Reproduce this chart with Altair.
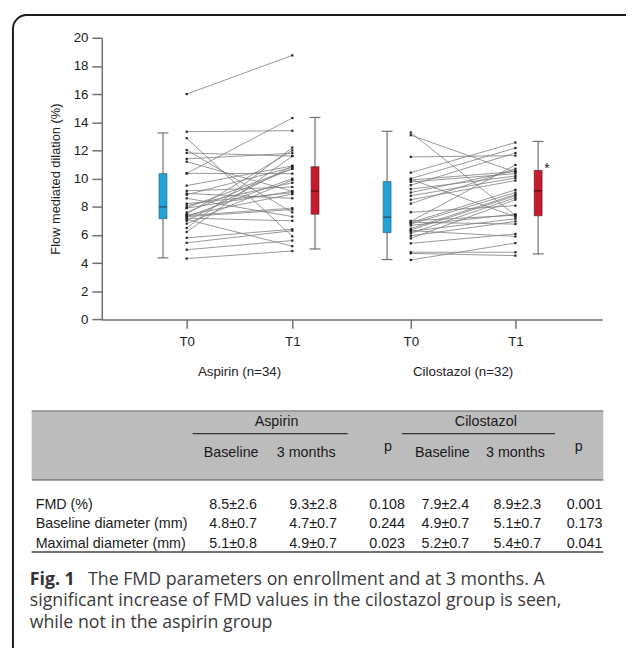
import altair as alt
import pandas as pd

# ---------------- data ----------------
aspirin_t0 = [16.0, 13.33, 12.87, 12.03, 11.82, 11.4, 11.2, 10.37, 10.37, 9.5,
              9.13, 8.94, 8.85, 8.6, 8.22, 8.08, 7.94, 7.47, 7.38, 7.29,
              7.19, 7.1, 7.0, 7.4, 7.3, 6.49, 6.21, 5.79, 5.44, 4.95,
              4.32, 7.9, 6.8, 7.6]
aspirin_t1 = [18.75, 13.4, 5.9, 7.6, 11.6, 11.8, 9.1, 14.3, 10.35, 10.9,
              9.4, 8.6, 10.8, 7.3, 9.0, 9.7, 10.7, 12.0, 7.9, 10.0,
              7.0, 5.2, 10.9, 8.9, 7.8, 12.2, 11.6, 6.4, 6.3, 5.6,
              4.86, 9.1, 9.9, 10.7]
cilostazol_t0 = [13.27, 13.08, 11.54, 10.42, 10.0, 9.95, 9.76, 9.53, 9.25, 9.01,
                 8.78, 8.5, 8.22, 7.61, 6.96, 6.87, 6.77, 6.68, 6.45, 6.35,
                 6.26, 6.12, 5.93, 5.75, 5.4, 4.77, 4.69, 4.22, 6.9, 6.3,
                 7.0, 9.9]
cilostazol_t1 = [7.38, 10.46, 11.63, 12.56, 12.17, 7.29, 10.35, 11.82, 10.18, 10.55,
                 10.04, 9.86, 10.7, 8.08, 10.97, 9.2, 9.01, 7.47, 8.87, 8.78,
                 7.15, 8.64, 6.96, 8.5, 6.07, 4.77, 4.53, 5.42, 6.77, 5.89,
                 7.4, 10.5]

groups = ["Aspirin", "Cilostazol"]
group_labels = ["Aspirin (n=34)", "Cilostazol (n=32)"]
times = ["T0", "T1"]

box_group = ["Aspirin", "Aspirin", "Cilostazol", "Cilostazol"]
box_time = ["T0", "T1", "T0", "T1"]
box_low = [4.37, 5.0, 4.25, 4.65]
box_q1 = [7.15, 7.47, 6.16, 7.36]
box_median = [7.99, 9.11, 7.26, 9.13]
box_q3 = [10.35, 10.84, 9.79, 10.58]
box_high = [13.24, 14.34, 13.36, 12.64]

sig_group = ["Cilostazol"]
sig_time = ["T1"]
sig_mark = ["*"]

y_ticks = [0, 2, 4, 6, 8, 10, 12, 14, 16, 18, 20]
y_title = "Flow mediated dilation (%)"

table_row_labels = ["FMD (%)", "Baseline diameter (mm)", "Maximal diameter (mm)"]
aspirin_baseline = ["8.5±2.6", "4.8±0.7", "5.1±0.8"]
aspirin_3months = ["9.3±2.8", "4.7±0.7", "4.9±0.7"]
aspirin_p = ["0.108", "0.244", "0.023"]
cilostazol_baseline = ["7.9±2.4", "4.9±0.7", "5.2±0.7"]
cilostazol_3months = ["8.9±2.3", "5.1±0.7", "5.4±0.7"]
cilostazol_p = ["0.001", "0.173", "0.041"]
table_groups = ["Aspirin", "Cilostazol"]
table_subheads = ["Baseline", "3 months", "p", "Baseline", "3 months", "p"]

caption_bold = "Fig. 1"
caption_lines = ["The FMD parameters on enrollment and at 3 months. A",
                 "significant increase of FMD values in the cilostazol group is seen,",
                 "while not in the aspirin group"]

# ---------------- layout (pixels, not data) ----------------
W, H = 626, 640
slot = {("Aspirin", "T0"): 86, ("Aspirin", "T1"): 193,
        ("Cilostazol", "T0"): 313, ("Cilostazol", "T1"): 419}
box_shift = {"T0": -24, "T1": 23}
BOX_HALF, CAP_HALF = 4, 5.5
AXIS_Y0, AXIS_Y20 = 311.3, 26
AXIS_X0, AXIS_X1 = 95, 602
FONT = "Liberation Sans"
AX = "#6f6f6f"

val_x = [228, 309, 384, 443, 516, 584]
head_x = [226, 302, 385, 440, 514, 578]
group_head_x = [272, 484]
underline_x1 = [187, 399]
underline_x2 = [344, 554]
row_y = [499, 519, 539]
TFS = 14.5
CFS = 18

# ---------------- build tables ----------------
rows = []
sid = 0
for g, t0, t1 in [("Aspirin", aspirin_t0, aspirin_t1), ("Cilostazol", cilostazol_t0, cilostazol_t1)]:
    for a, b in zip(t0, t1):
        rows.append({"sid": sid, "x": slot[(g, "T0")], "v": a})
        rows.append({"sid": sid, "x": slot[(g, "T1")], "v": b})
        sid += 1
lines_df = pd.DataFrame(rows)

bx = [slot[(g, t)] + box_shift[t] for g, t in zip(box_group, box_time)]
box_df = pd.DataFrame({
    "group": box_group, "time": box_time, "x": bx,
    "xl": [v - BOX_HALF for v in bx], "xr": [v + BOX_HALF for v in bx],
    "cl": [v - CAP_HALF for v in bx], "cr": [v + CAP_HALF for v in bx],
    "low": box_low, "q1": box_q1, "med": box_median, "q3": box_q3, "high": box_high,
})
sig_df = box_df[(box_df["group"].isin(sig_group)) & (box_df["time"].isin(sig_time))].copy()
sig_df["mark"] = sig_mark

glab_df = pd.DataFrame({"label": group_labels,
                        "xm": [(slot[(g, "T0")] + slot[(g, "T1")]) / 2 for g in groups]})

xs = alt.Scale(domain=[0, 507], range=[AXIS_X0, AXIS_X1], nice=False, zero=False)
ys = alt.Scale(domain=[0, 20], range=[AXIS_Y0, AXIS_Y20], nice=False, zero=False)
common_axis = dict(domainColor=AX, domainWidth=1.5, tickColor=AX, tickWidth=1.5,
                   labelFont=FONT, labelFontSize=13.5, labelColor="#222", grid=False)
x_axis = alt.Axis(orient="bottom", offset=AXIS_Y0 - H, values=[86, 193, 313, 419],
                  labelExpr="(datum.value == 86 || datum.value == 313) ? 'T0' : 'T1'",
                  tickSize=9, labelPadding=6, title="", **common_axis)
y_axis = alt.Axis(orient="left", offset=-AXIS_X0, values=y_ticks, tickSize=10, labelPadding=4,
                  title=y_title, titleFont=FONT, titleFontSize=13, titleFontWeight="normal",
                  titleColor="#222", titlePadding=11, **common_axis)


def X(f):
    return alt.X(f, type="quantitative", scale=xs, axis=x_axis)


def Y(f):
    return alt.Y(f, type="quantitative", scale=ys, axis=y_axis)


lines = alt.Chart(lines_df).mark_line(color="#7e7e7e", strokeWidth=0.8).encode(
    X("x"), Y("v"), detail="sid:N")
pts = alt.Chart(lines_df).mark_square(size=5, color="#222", opacity=1).encode(X("x"), Y("v"))
bb = alt.Chart(box_df)
whisk = bb.mark_rule(color="#707070", strokeWidth=1.2).encode(X("x"), Y("low"), alt.Y2("high"))
cap_lo = bb.mark_rule(color="#707070", strokeWidth=1.2).encode(X("cl"), alt.X2("cr"), Y("low"))
cap_hi = bb.mark_rule(color="#707070", strokeWidth=1.2).encode(X("cl"), alt.X2("cr"), Y("high"))
box_t0 = bb.transform_filter("datum.time == 'T0'").mark_rect(
    color="#1fa3dc", stroke="#3d5f70", strokeWidth=0.7).encode(X("xl"), alt.X2("xr"), Y("q1"), alt.Y2("q3"))
box_t1 = bb.transform_filter("datum.time == 'T1'").mark_rect(
    color="#c8192e", stroke="#5a2a2e", strokeWidth=0.7).encode(X("xl"), alt.X2("xr"), Y("q1"), alt.Y2("q3"))
med_t0 = bb.transform_filter("datum.time == 'T0'").mark_rule(
    color="#1c5b7a", strokeWidth=1.5).encode(X("xl"), alt.X2("xr"), Y("med"))
med_t1 = bb.transform_filter("datum.time == 'T1'").mark_rule(
    color="#6a1119", strokeWidth=1.5).encode(X("xl"), alt.X2("xr"), Y("med"))
sig = alt.Chart(sig_df).mark_text(font=FONT, fontSize=14, color="#222", dx=9, dy=-1,
                                  baseline="middle").encode(X("x"), Y("q3"), text="mark:N")
glab = alt.Chart(glab_df).mark_text(font=FONT, fontSize=13.5, color="#222", baseline="middle").encode(
    X("xm"), y=alt.value(365), text="label:N")

main = alt.layer(lines, whisk, cap_lo, cap_hi, box_t0, box_t1, med_t0, med_t1, pts, sig, glab)


# ---------------- table & caption ----------------
def PX(f):
    return alt.X(f, type="quantitative", scale=alt.Scale(domain=[0, W], range=[0, W], nice=False, zero=False), axis=None)


def PY(f):
    return alt.Y(f, type="quantitative", scale=alt.Scale(domain=[0, H], range=[0, H], nice=False, zero=False), axis=None)


one = alt.Data(values=[{}])
band = alt.Chart(one).mark_rect(color="#bcbcbc").encode(
    x=alt.value(24), x2=alt.value(603), y=alt.value(404), y2=alt.value(474))
band_top = alt.Chart(one).mark_rule(color="#666", strokeWidth=1).encode(
    x=alt.value(24), x2=alt.value(603), y=alt.value(404))
band_bot = alt.Chart(one).mark_rule(color="#555", strokeWidth=1.2).encode(
    x=alt.value(24), x2=alt.value(603), y=alt.value(474))
table_bot = alt.Chart(one).mark_rule(color="#444", strokeWidth=1.5).encode(
    x=alt.value(24), x2=alt.value(603), y=alt.value(547))
ul_df = pd.DataFrame({"g": table_groups, "x1": underline_x1, "x2": underline_x2, "y": [427, 427]})
underl = alt.Chart(ul_df).mark_rule(color="#333", strokeWidth=1.3).encode(PX("x1"), alt.X2("x2"), PY("y"))

cells = []
for g, c in zip(table_groups, group_head_x):
    cells.append({"t": g, "px": c, "py": 415})
for i, s in enumerate(table_subheads):
    cells.append({"t": s, "px": head_x[i], "py": 441 if s == "p" else 447})
value_cols = [aspirin_baseline, aspirin_3months, aspirin_p,
              cilostazol_baseline, cilostazol_3months, cilostazol_p]
for ci, arr in enumerate(value_cols):
    for ri, val in enumerate(arr):
        cells.append({"t": val, "px": val_x[ci], "py": row_y[ri]})
cell_df = pd.DataFrame(cells)
cell_text = alt.Chart(cell_df).mark_text(font=FONT, fontSize=TFS, color="#1a1a1a", baseline="middle",
                                         align="center").encode(PX("px"), PY("py"), text="t:N")
lab_df = pd.DataFrame({"t": table_row_labels, "px": [28] * 3, "py": row_y})
lab_text = alt.Chart(lab_df).mark_text(font=FONT, fontSize=TFS, color="#1a1a1a", baseline="middle",
                                       align="left").encode(PX("px"), PY("py"), text="t:N")

cap_bold_df = pd.DataFrame({"t": [caption_bold], "px": [22], "py": [580]})
cap_df = pd.DataFrame({"t": caption_lines, "px": [81, 22, 22], "py": [580, 602, 624]})
cap_b = alt.Chart(cap_bold_df).mark_text(font="Open Sans", fontSize=CFS, fontWeight="bold", color="#333",
                                         align="left", baseline="alphabetic").encode(PX("px"), PY("py"), text="t:N")
cap_n = alt.Chart(cap_df).mark_text(font="Open Sans", fontSize=CFS, color="#3a3a3a",
                                    align="left", baseline="alphabetic").encode(PX("px"), PY("py"), text="t:N")

frame = alt.Chart(one).mark_rect(filled=False, stroke="#1a1a1a", strokeWidth=2, cornerRadius=14).encode(
    x=alt.value(5), x2=alt.value(W + 40), y=alt.value(3), y2=alt.value(H + 40))

chart = alt.layer(main, band, band_top, band_bot, table_bot, underl, cell_text, lab_text,
                  cap_b, cap_n, frame).resolve_scale(x="independent", y="independent").properties(
    width=W, height=H, autosize="none", padding=0
).configure_view(stroke="transparent")

chart.save("out.html", embed_options={"renderer": "svg", "actions": False})
